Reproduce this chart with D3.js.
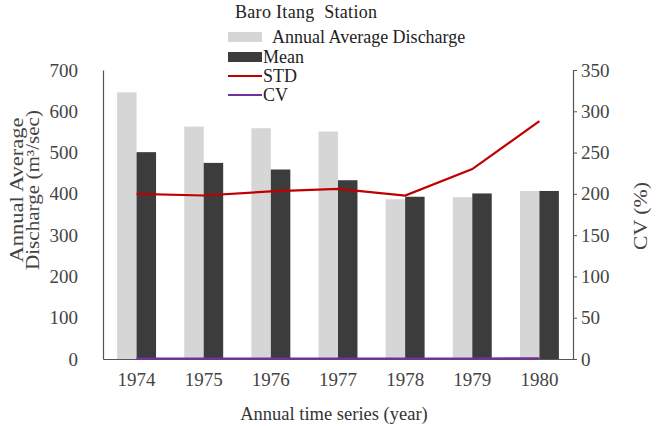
<!DOCTYPE html>
<html>
<head>
<meta charset="utf-8">
<script src="https://cdn.jsdelivr.net/npm/d3@7"></script>
<style>
  html, body { margin: 0; padding: 0; background: #fff; }
  svg, svg text { font-family: "Liberation Serif", "Times New Roman", Times, "DejaVu Serif", serif !important; }
</style>
</head>
<body>
<svg id="chart" width="660" height="426"></svg>
<script>
// Baro Itang station: annual discharge statistics, 1974-1980
const years = ["1974", "1975", "1976", "1977", "1978", "1979", "1980"];
const annualDischarge = [646, 563, 559, 551, 387, 392, 407];
const meanDischarge = [501, 475, 459, 433, 393, 401, 407];
const stdValues = [200, 198, 203, 206, 198, 230, 288];
const cvValues = [0.40, 0.42, 0.44, 0.48, 0.50, 0.57, 0.71];
const leftTicks = [0, 100, 200, 300, 400, 500, 600, 700];
const rightTicks = [0, 50, 100, 150, 200, 250, 300, 350];

const svg = d3.select("#chart");
const plot = { left: 103, right: 573, top: 70, bottom: 359 };

const x = d3.scaleBand().domain(years)
  .range([plot.left, plot.right]).paddingInner(0.42).paddingOuter(0.21);
const xSeries = d3.scaleBand().domain(["annual", "mean"]).range([0, x.bandwidth()]);
const yLeft = d3.scaleLinear().domain([0, 700]).range([plot.bottom, plot.top]);
const yRight = d3.scaleLinear().domain([0, 350]).range([plot.bottom, plot.top]);

const colors = { annual: "#d6d6d6", mean: "#3c3c3c", std: "#c00000", cv: "#7030a0" };
const axisColor = "#555";

// bars
const rows = years.map((yr, i) => ({ yr, annual: annualDischarge[i], mean: meanDischarge[i] }));
const groups = svg.append("g").selectAll("g").data(rows).join("g")
  .attr("transform", d => `translate(${x(d.yr)},0)`);
["annual", "mean"].forEach(key => {
  groups.append("rect")
    .attr("x", xSeries(key))
    .attr("width", xSeries.bandwidth())
    .attr("y", d => yLeft(d[key]))
    .attr("height", d => yLeft(0) - yLeft(d[key]))
    .attr("fill", colors[key]);
});

// left axis (line only, no tick marks)
const leftAxis = svg.append("g").attr("transform", `translate(${plot.left},0)`)
  .call(d3.axisLeft(yLeft).tickValues(leftTicks).tickSize(0).tickPadding(25));
leftAxis.select(".domain").attr("stroke", axisColor).attr("stroke-width", 1.2);
leftAxis.selectAll("text").attr("font-size", 19).attr("fill", "#444");

// right axis
const rightAxis = svg.append("g").attr("transform", `translate(${plot.right},0)`)
  .call(d3.axisRight(yRight).tickValues(rightTicks).tickSizeInner(4).tickSizeOuter(4).tickPadding(4));
rightAxis.select(".domain").attr("stroke", axisColor).attr("stroke-width", 1.2);
rightAxis.selectAll("line").attr("stroke", axisColor);
rightAxis.selectAll("text").attr("font-size", 19).attr("fill", "#444");

// bottom axis
const bottomAxis = svg.append("g").attr("transform", `translate(0,${plot.bottom})`)
  .call(d3.axisBottom(x).tickSize(0).tickPadding(14));
bottomAxis.select(".domain").attr("stroke", axisColor).attr("stroke-width", 1.2);
bottomAxis.selectAll("text").attr("font-size", 19).attr("fill", "#444");

// lines on the right axis
const cx = yr => x(yr) + x.bandwidth() / 2;
const line = d3.line().x(d => cx(d.yr)).y(d => yRight(d.v));
svg.append("path")
  .datum(years.map((yr, i) => ({ yr, v: cvValues[i] })))
  .attr("d", line).attr("fill", "none")
  .attr("stroke", colors.cv).attr("stroke-width", 2.2);
svg.append("path")
  .datum(years.map((yr, i) => ({ yr, v: stdValues[i] })))
  .attr("d", line).attr("fill", "none")
  .attr("stroke", colors.std).attr("stroke-width", 2.2);

// axis titles
const leftTitle = svg.append("g").attr("transform", "translate(0,190) rotate(-90)")
  .attr("font-size", 18).attr("fill", "#444").attr("text-anchor", "middle");
leftTitle.append("text").attr("x", 0).attr("y", 23)
  .attr("textLength", 145).attr("lengthAdjust", "spacingAndGlyphs")
  .text("Annual Average");
leftTitle.append("text").attr("x", 0).attr("y", 39)
  .attr("textLength", 160).attr("lengthAdjust", "spacingAndGlyphs")
  .text("Discharge (m³/sec)");

svg.append("text")
  .attr("transform", "translate(647,216) rotate(-90)")
  .attr("text-anchor", "middle").attr("font-size", 19).attr("fill", "#444")
  .attr("textLength", 68).attr("lengthAdjust", "spacingAndGlyphs")
  .text("CV (%)");

svg.append("text")
  .attr("x", 334).attr("y", 420)
  .attr("text-anchor", "middle").attr("font-size", 18.5).attr("fill", "#333")
  .text("Annual time series (year)");

// title and legend
svg.append("text").attr("x", 235).attr("y", 18)
  .attr("font-size", 18).attr("fill", "#222")
  .attr("textLength", 142).attr("lengthAdjust", "spacing")
  .text("Baro Itang\u00a0\u00a0Station");

const legend = svg.append("g").attr("font-size", 18).attr("fill", "#222");
const legendItems = [
  { label: "Annual Average Discharge", kind: "rect", color: colors.annual, y: 37, tx: 272 },
  { label: "Mean", kind: "rect", color: colors.mean, y: 57, tx: 263 },
  { label: "STD", kind: "line", color: colors.std, y: 76, tx: 263 },
  { label: "CV", kind: "line", color: colors.cv, y: 95, tx: 263 }
];
legendItems.forEach(it => {
  if (it.kind === "rect") {
    legend.append("rect").attr("x", 228).attr("y", it.y - 5).attr("width", 34).attr("height", 10)
      .attr("fill", it.color);
  } else {
    legend.append("line").attr("x1", 228).attr("x2", 262).attr("y1", it.y).attr("y2", it.y)
      .attr("stroke", it.color).attr("stroke-width", 2);
  }
  legend.append("text").attr("x", it.tx).attr("y", it.y + 6).text(it.label);
});
</script>
</body>
</html>
